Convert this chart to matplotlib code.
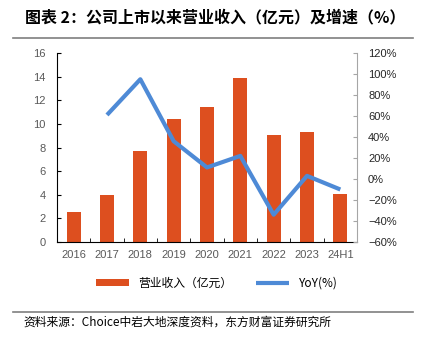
import numpy as np
import matplotlib
matplotlib.use("Agg")
import matplotlib.pyplot as plt
from matplotlib.lines import Line2D
from matplotlib.ticker import FixedLocator, FuncFormatter

plt.rcParams['font.family'] = ['Liberation Sans', 'Noto Sans CJK SC', 'DejaVu Sans']

years = ['2016', '2017', '2018', '2019', '2020', '2021', '2022', '2023', '24H1']
revenue = [2.5, 4.0, 7.7, 10.4, 11.4, 13.9, 9.1, 9.3, 4.1]
yoy = [None, 61, 95, 36, 11, 22, -34, 3, -10]

bar_color = '#DD4F1F'
line_color = '#4E8AD6'
cjk = ['Noto Sans CJK SC', 'DejaVu Sans']

fig = plt.figure(figsize=(4.21, 3.45), dpi=100)
ax = fig.add_axes([57 / 421, 1 - 242 / 345, 300 / 421, 189 / 345])
x = np.arange(len(years))
ax.bar(x, revenue, width=0.42, color=bar_color, label='营业收入（亿元）', zorder=2)
ax.set_xlim(-0.5, len(years) - 0.5)
ax.set_ylim(0, 16)
ax.set_yticks(np.arange(0, 17, 2))
ax.set_xticks(x)
ax.set_xticklabels(years)
ax.xaxis.set_minor_locator(FixedLocator(np.arange(0.5, len(years) - 1, 1)))
ax.tick_params(axis='x', which='major', length=0, pad=6, labelsize=8, labelcolor='#595959')
ax.tick_params(axis='x', which='minor', direction='in', length=3, color='black')
ax.tick_params(axis='y', direction='in', length=3, labelsize=8, labelcolor='#595959', pad=8)
for s in ['top', 'right']:
    ax.spines[s].set_visible(False)
ax.spines['left'].set_color('black')
ax.spines['bottom'].set_color('black')

ax2 = ax.twinx()
yx = [i for i, v in enumerate(yoy) if v is not None]
yv = [v for v in yoy if v is not None]
ax2.plot(yx, yv, color=line_color, lw=3, label='YoY(%)', zorder=3, solid_capstyle='butt')
ax2.set_ylim(-60, 120)
ax2.set_yticks(np.arange(-60, 121, 20))
ax2.yaxis.set_major_formatter(FuncFormatter(lambda v, p: f"{v:.0f}%".replace('-', '\u2212')))
ax2.tick_params(axis='y', direction='in', length=3, color='#A6A6A6', labelsize=8, labelcolor='#262626', pad=8)
for s in ['top', 'left', 'bottom']:
    ax2.spines[s].set_visible(False)
ax2.spines['right'].set_color('#A6A6A6')

h1, l1 = ax.get_legend_handles_labels()
h2, l2 = ax2.get_legend_handles_labels()
leg = fig.legend(h1 + h2, l1 + l2, loc='center', bbox_to_anchor=(0.515, 1 - 283 / 345), ncol=2,
                 frameon=False, handlelength=2.8, handleheight=0.6, columnspacing=2.0,
                 prop={'family': cjk, 'size': 8.5})

fig.text(25 / 421, 1 - 17 / 345, '图表 2：公司上市以来营业收入（亿元）及增速（%）', family=cjk,
         fontsize=11.5, fontweight='bold', va='center', ha='left')
fig.add_artist(Line2D([13 / 421, 413 / 421], [1 - 38 / 345] * 2, color='#7F7F7F', lw=1.2))
fig.add_artist(Line2D([13 / 421, 413 / 421], [1 - 312 / 345] * 2, color='#7F7F7F', lw=1.2))
fig.text(23 / 421, 1 - 322 / 345, '资料来源：Choice中岩大地深度资料，东方财富证券研究所', family=cjk,
         fontsize=8.5, va='center', ha='left')

fig.savefig('out.png', dpi=100)
